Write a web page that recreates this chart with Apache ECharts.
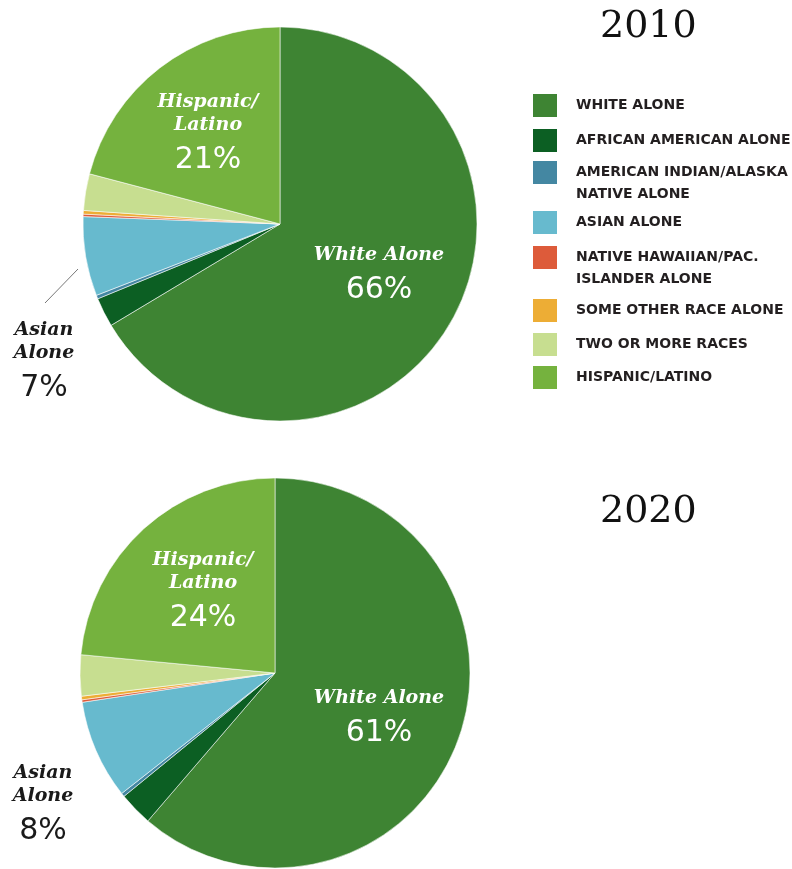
<!DOCTYPE html>
<html>
<head>
<meta charset="utf-8">
<script src="https://cdn.jsdelivr.net/npm/echarts@6/dist/echarts.min.js"></script>
<style>
  html, body { margin: 0; padding: 0; background: #fff; }
  #chart { width: 792px; height: 869px; }
</style>
</head>
<body>
<div id="chart"></div>
<script>
// race / ethnicity groups, in the order they go round the pie (clockwise from 12 o'clock)
const categories = [
  'WHITE ALONE',
  'AFRICAN AMERICAN ALONE',
  'AMERICAN INDIAN/ALASKA NATIVE ALONE',
  'ASIAN ALONE',
  'NATIVE HAWAIIAN/PAC. ISLANDER ALONE',
  'SOME OTHER RACE ALONE',
  'TWO OR MORE RACES',
  'HISPANIC/LATINO'
];
const colors = ['#3e8433', '#0c5f23', '#4487a2', '#67bace', '#dd5b3a', '#edad35', '#c7de90', '#75b23e'];
// share of population, %
const values2010 = [66.4, 2.4, 0.3, 6.5, 0.2, 0.3, 3.0, 20.9];
const values2020 = [61.3, 2.8, 0.3, 8.2, 0.2, 0.3, 3.4, 23.5];
const years = ['2010', '2020'];
// slices that get a name + percent label
const sliceLabels = { 'WHITE ALONE': 'White Alone', 'ASIAN ALONE': 'Asian\nAlone', 'HISPANIC/LATINO': 'Hispanic/\nLatino' };
const legendText = {
  'AMERICAN INDIAN/ALASKA NATIVE ALONE': ' \nAMERICAN INDIAN/ALASKA\nNATIVE ALONE',
  'NATIVE HAWAIIAN/PAC. ISLANDER ALONE': ' \nNATIVE HAWAIIAN/PAC.\nISLANDER ALONE'
};

var myChart = echarts.init(document.getElementById('chart'));

// where each label block sits (centre), per pie
const labelAnchors = [
  { 0: [379, 279], 3: [44, 365.5], 7: [208, 137.5] },
  { 0: [379, 722], 3: [43, 808.5], 7: [203, 595.5] }
];

function makePie(values, idx, center, radius) {
  return {
    type: 'pie',
    center: center,
    radius: radius,
    startAngle: 90,
    clockwise: true,
    avoidLabelOverlap: false,
    emphasis: { disabled: true },
    itemStyle: { borderColor: 'rgba(255,255,255,0.55)', borderWidth: 1 },
    data: categories.map((c, i) => ({
      name: c,
      value: values[i],
      itemStyle: { color: colors[i] },
      label: { show: !!sliceLabels[c] }
    })),
    label: {
      position: 'inside',
      formatter: function (p) {
        if (!sliceLabels[p.name]) return '';
        var dark = p.name === 'ASIAN ALONE' ? 'k' : '';
        var lines = sliceLabels[p.name].split('\n').map(s => '{n' + dark + '|' + s + '}');
        return lines.join('\n') + '\n{p' + dark + '|' + Math.round(p.percent) + '%}';
      },
      rich: {
        n: { fontFamily: 'DejaVu Serif', fontStyle: 'italic', fontWeight: 'bold', fontSize: 19, lineHeight: 23, color: '#fff', align: 'center' },
        p: { fontFamily: 'DejaVu Sans', fontSize: 30, lineHeight: 48, color: '#fff', align: 'center' },
        nk: { fontFamily: 'DejaVu Serif', fontStyle: 'italic', fontWeight: 'bold', fontSize: 19, lineHeight: 23, color: '#1a1a1a', align: 'center' },
        pk: { fontFamily: 'DejaVu Sans', fontSize: 30, lineHeight: 48, color: '#1a1a1a', align: 'center' }
      }
    },
    labelLine: { show: false },
    labelLayout: function (params) {
      var a = labelAnchors[idx][params.dataIndex];
      if (!a) return {};
      return { x: a[0], y: a[1], align: 'center', verticalAlign: 'middle' };
    }
  };
}

// one legend per entry so the two-line entries sit like the original
const legendIconTop = [94, 129, 161, 211, 246, 299, 333, 366];
var legends = categories.map((c, i) => ({
  data: [c],
  left: 533,
  top: legendText[c] ? legendIconTop[i] - 21.5 : legendIconTop[i],
  padding: 0,
  orient: 'vertical',
  icon: 'rect',
  itemWidth: 24,
  itemHeight: 23,
  selectedMode: false,
  itemStyle: { borderWidth: 0 },
  formatter: function (name) { return legendText[name] || name; },
  textStyle: {
    fontFamily: 'DejaVu Sans',
    fontWeight: 'bold',
    fontSize: 14,
    lineHeight: 22,
    color: '#231f20',
    padding: [0, 0, 0, 14]
  }
}));

var option = {
  animation: false,
  backgroundColor: '#fff',
  title: [
    { text: years[0], left: 600, top: 7, padding: 0, textStyle: { fontFamily: 'DejaVu Serif', fontWeight: 'normal', fontSize: 38, lineHeight: 40, color: '#111' } },
    { text: years[1], left: 600, top: 492, padding: 0, textStyle: { fontFamily: 'DejaVu Serif', fontWeight: 'normal', fontSize: 38, lineHeight: 40, color: '#111' } }
  ],
  legend: legends,
  graphic: [
    // leader line for the 2010 Asian label
    { type: 'line', shape: { x1: 78, y1: 269, x2: 45, y2: 303 }, style: { stroke: '#777', lineWidth: 1 } }
  ],
  series: [
    makePie(values2010, 0, [280, 224], 197),
    makePie(values2020, 1, [275, 673], 195)
  ]
};

option && myChart.setOption(option);
window.addEventListener('resize', () => {
  myChart.resize()
})
</script>
</body>
</html>
